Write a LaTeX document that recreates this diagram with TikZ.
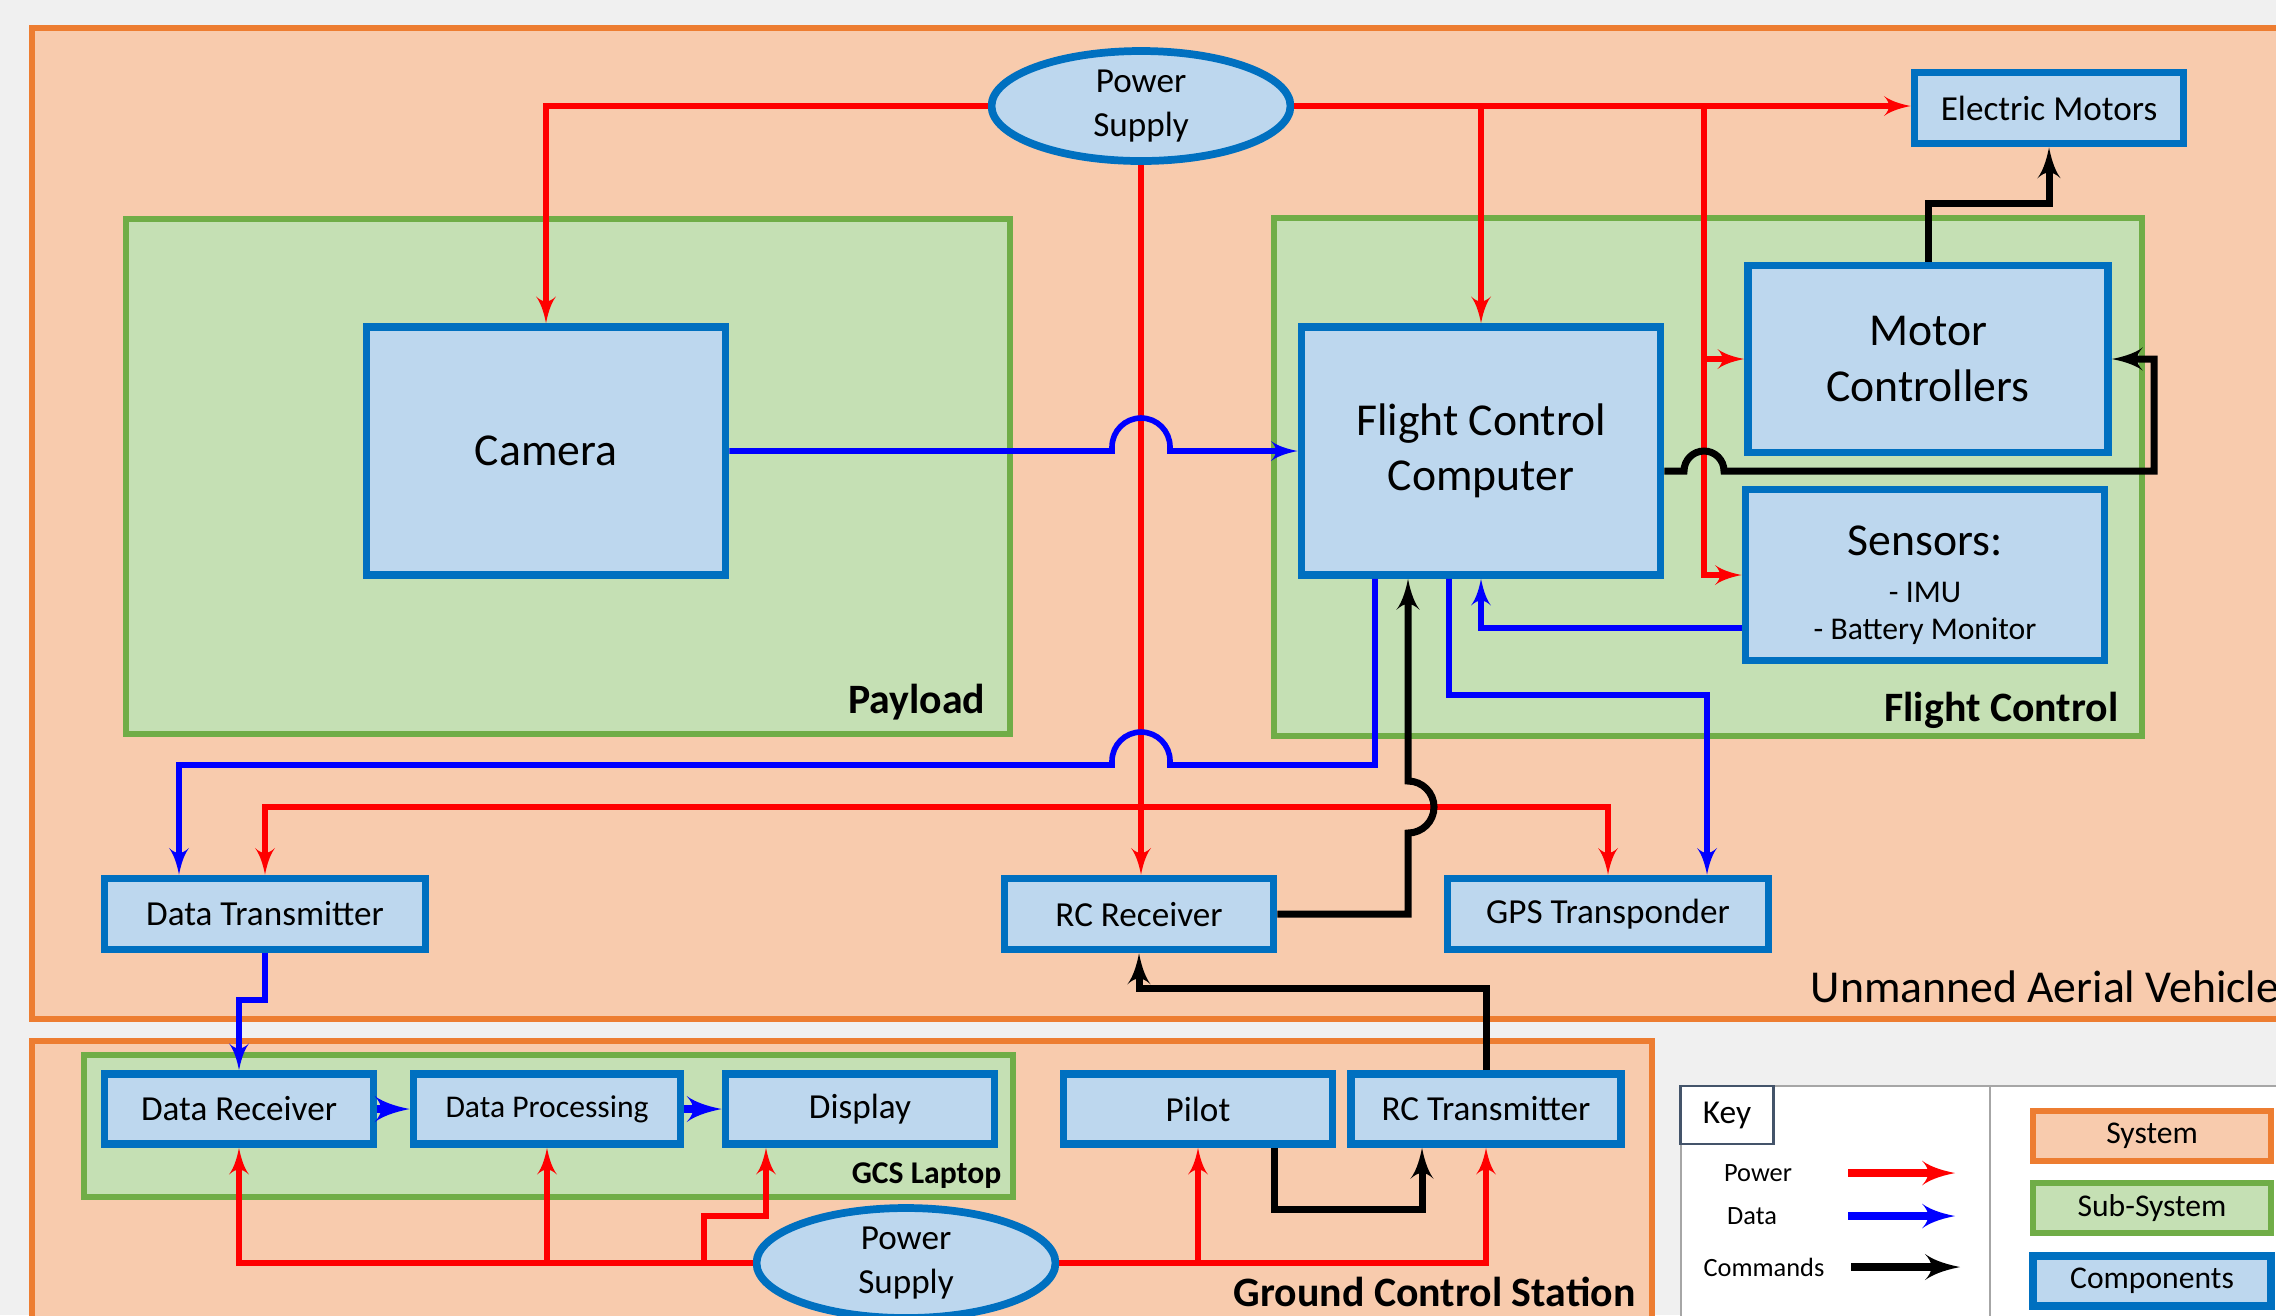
\documentclass[tikz,border=0pt]{standalone}
\usepackage{fontspec}
\setmainfont{Carlito}
\usepackage{tikz}
\usetikzlibrary{arrows,shapes.geometric}

\definecolor{bggrey}{HTML}{F0F0F0}
\definecolor{sysfill}{HTML}{F8CBAD}
\definecolor{sysline}{HTML}{ED7D31}
\definecolor{subfill}{HTML}{C5E0B4}
\definecolor{subline}{HTML}{70AD47}
\definecolor{compfill}{HTML}{BDD7EE}
\definecolor{compline}{HTML}{0070C0}
\definecolor{pwr}{HTML}{FF0000}
\definecolor{dat}{HTML}{0000FF}
\definecolor{keyline}{HTML}{A6A6A6}
\definecolor{keydark}{HTML}{44546A}

\begin{document}
\begin{tikzpicture}
\tikzset{system/.style = {draw=sysline,fill=sysfill,line width=1.8pt}}
\tikzset{subsystem/.style = {draw=subline,fill=subfill,line width=1.6pt}}
\tikzset{comp/.style = {shape=rectangle,draw=compline,fill=compfill,line width=2.2pt,inner sep=0pt,font=\fontsize{10}{12}\selectfont}}
\tikzset{bigcomp/.style = {comp,align=center,minimum width=3.59cm,font=\fontsize{13}{15.7}\selectfont}}
\tikzset{smallcomp/.style = {comp,minimum width=2.69cm,minimum height=0.71cm}}
\tikzset{supply/.style = {shape=ellipse,draw=compline,fill=compfill,line width=2.2pt,minimum width=2.99cm,minimum height=1.10cm,inner sep=0pt,align=center,font=\fontsize{10}{12.4}\selectfont}}
\tikzset{boxtitle/.style = {anchor=base east,inner sep=0pt,font=\bfseries\fontsize{11.9}{13}\selectfont}}
\tikzset{powerlink/.style = {->,> = latex',draw=pwr,line width=1.6pt}}
\tikzset{datalink/.style = {->,> = latex',draw=dat,line width=1.6pt}}
\tikzset{cmdlink/.style = {->,> = latex',draw=black,line width=2pt}}
\tikzset{keybox/.style = {minimum width=2.38cm,minimum height=0.50cm,inner sep=0pt,font=\fontsize{9}{11}\selectfont}}
\tikzset{keytext/.style = {font=\fontsize{7.5}{9}\selectfont}}

\useasboundingbox[fill=bggrey] (0,0) rectangle (22.76,-13.15);
\clip (0,0) rectangle (22.76,-13.15);

% systems
\draw[system] (0.32,-0.28) rectangle (23.5,-10.19);
\draw[system] (0.32,-10.41) rectangle (16.52,-13.6);
\node[anchor=base west,inner sep=0pt,font=\fontsize{13}{15}\selectfont] (uavname) at (18.10,-10.02) {Unmanned Aerial Vehicle};
\node[boxtitle] (gcsname) at (16.36,-13.06) {Ground Control Station};

% subsystems
\draw[subsystem] (1.26,-2.19) rectangle (10.10,-7.34);
\draw[subsystem] (12.74,-2.18) rectangle (21.42,-7.36);
\draw[subsystem] (0.84,-10.55) rectangle (10.13,-11.97);
\node[boxtitle] (payname) at (9.86,-7.13) {Payload};
\node[boxtitle] (fcname) at (21.19,-7.21) {Flight Control};
\node[boxtitle,font=\bfseries\fontsize{9}{11}\selectfont] (lapname) at (10.02,-11.83) {GCS Laptop};

% components, vehicle
\node[supply] (ps) at (11.41,-1.06) {Power\\Supply};
\node[smallcomp] (em) at (20.49,-1.08) {Electric Motors};
\node[bigcomp,minimum height=2.48cm] (cam) at (5.46,-4.51) {Camera};
\node[bigcomp,minimum height=2.48cm] (fcc) at (14.81,-4.51) {Flight Control\\Computer};
\node[bigcomp,minimum width=3.60cm,minimum height=1.87cm] (mc) at (19.28,-3.59) {Motor\\Controllers};
\node[bigcomp,minimum height=1.71cm,text height=1.35cm,font=\fontsize{9}{10.7}\selectfont] (sen) at (19.25,-5.75)
  {{\fontsize{13}{13}\selectfont Sensors:}\\[2.5pt]- IMU\\- Battery Monitor};
\node[smallcomp,minimum width=3.21cm] (dt) at (2.65,-9.14) {Data Transmitter};
\node[smallcomp] (rcr) at (11.39,-9.14) {RC Receiver};
\node[smallcomp,minimum width=3.21cm] (gps) at (16.08,-9.14) {GPS Transponder};

% components, ground station
\node[smallcomp,minimum height=0.70cm] (dr) at (2.39,-11.09) {Data Receiver};
\node[smallcomp,minimum width=2.67cm,minimum height=0.70cm,font=\fontsize{9}{11}\selectfont] (dp) at (5.47,-11.09) {Data Processing};
\node[smallcomp,minimum height=0.70cm] (disp) at (8.60,-11.09) {Display};
\node[smallcomp,minimum height=0.70cm] (pilot) at (11.98,-11.09) {Pilot};
\node[smallcomp,minimum width=2.70cm,minimum height=0.70cm] (rct) at (14.86,-11.09) {RC Transmitter};
\node[supply] (ps2) at (9.06,-12.63) {Power\\Supply};

% power
\coordinate (j1) at (17.04,-1.06);
\coordinate (bus) at (11.41,-8.07);
\coordinate (j2) at (7.04,-12.63);
\draw[powerlink] (ps.west) -| (cam.north);
\draw[powerlink] (ps.east) -- (ps.east -| em.west);
\draw[powerlink] (ps.east -| fcc.north) -- (fcc.north);
\draw[powerlink] (j1) |- (sen.west);
\draw[powerlink] (j1 |- mc.west) -- (mc.west);
\draw[powerlink] (ps.south) -- (ps.south |- rcr.north);
\draw[powerlink] (bus) -| (dt.north);
\draw[powerlink] (bus) -| (gps.north);
\draw[powerlink] (ps2.west) -| (dr.south);
\draw[powerlink] (ps2.west -| dp.south) -- (dp.south);
\draw[powerlink] (j2) -- (7.04,-12.16) -| ([xshift=-0.94cm]disp.south);
\draw[powerlink] (ps2.east) -| (rct.south);
\draw[powerlink] (ps2.east -| pilot.south) -- (pilot.south);

% data
\draw[datalink] (cam.east) -- (11.12,-4.51) -- ++(0,0.04) arc (180:0:0.29) -- ++(0,-0.04) -- (fcc.west);
\draw[datalink] ([xshift=-1.06cm]fcc.south) |- (11.70,-7.65) -- ++(0,0.04) arc (0:180:0.29) -- ++(0,-0.04) -| ([xshift=-0.86cm]dt.north);
\draw[datalink] ([xshift=-0.32cm]fcc.south) -- (14.49,-6.95) -| ([xshift=0.99cm]gps.north);
\draw[datalink] ([yshift=-0.53cm]sen.west) -| (fcc.south);
\draw[datalink] (dt.south) -- (2.65,-10.00) -| (dr.north);
\draw[datalink,line width=2.4pt] (dr.east) -- (dp.west);
\draw[datalink,line width=2.4pt] (dp.east) -- (disp.west);

% commands
\draw[cmdlink] (mc.north) -- (19.28,-2.03) -| (em.south);
\draw[cmdlink] ([yshift=-0.2cm]fcc.east) -- (16.84,-4.71) arc (180:0:0.2) -- (21.54,-4.71) |- (mc.east);
\draw[cmdlink] (rcr.east) -| (14.08,-8.33) arc (-90:90:0.26) -- ([xshift=-0.73cm]fcc.south);
\draw[cmdlink] (rct.north) -- (14.86,-9.88) -| (rcr.south);
\draw[cmdlink] ([xshift=0.76cm]pilot.south) -- ++(0,-0.62) -| ([xshift=-0.64cm]rct.south);

% key
\draw[keyline,fill=white,line width=0.8pt] (16.81,-10.86) rectangle (23.5,-13.6);
\draw[keyline,line width=0.8pt] (19.90,-10.86) -- (19.90,-13.6);
\node[draw=keydark,fill=white,line width=0.8pt,minimum width=0.93cm,minimum height=0.58cm,inner sep=0pt,font=\fontsize{9.5}{11}\selectfont] (key) at (17.27,-11.15) {Key};
\node[keytext] (kp) at (17.58,-11.73) {Power};
\node[keytext] (kd) at (17.52,-12.16) {Data};
\node[keytext] (kcmd) at (17.64,-12.67) {Commands};
\coordinate (kp1) at (18.48,-11.73);
\coordinate (kp2) at (19.55,-11.73);
\coordinate (kd1) at (18.48,-12.16);
\coordinate (kd2) at (19.55,-12.16);
\coordinate (kc1) at (18.51,-12.67);
\coordinate (kc2) at (19.60,-12.67);
\draw[powerlink,line width=2.2pt] (kp1) -- (kp2);
\draw[datalink,line width=2.2pt] (kd1) -- (kd2);
\draw[cmdlink,line width=2.4pt] (kc1) -- (kc2);
\node[keybox,draw=sysline,fill=sysfill,line width=1.8pt] (ksys) at (21.52,-11.36) {System};
\node[keybox,draw=subline,fill=subfill,line width=1.8pt] (ksub) at (21.52,-12.08) {Sub-System};
\node[keybox,draw=compline,fill=compfill,line width=2.2pt] (kcomp) at (21.52,-12.81) {Components};

\end{tikzpicture}
\end{document}
